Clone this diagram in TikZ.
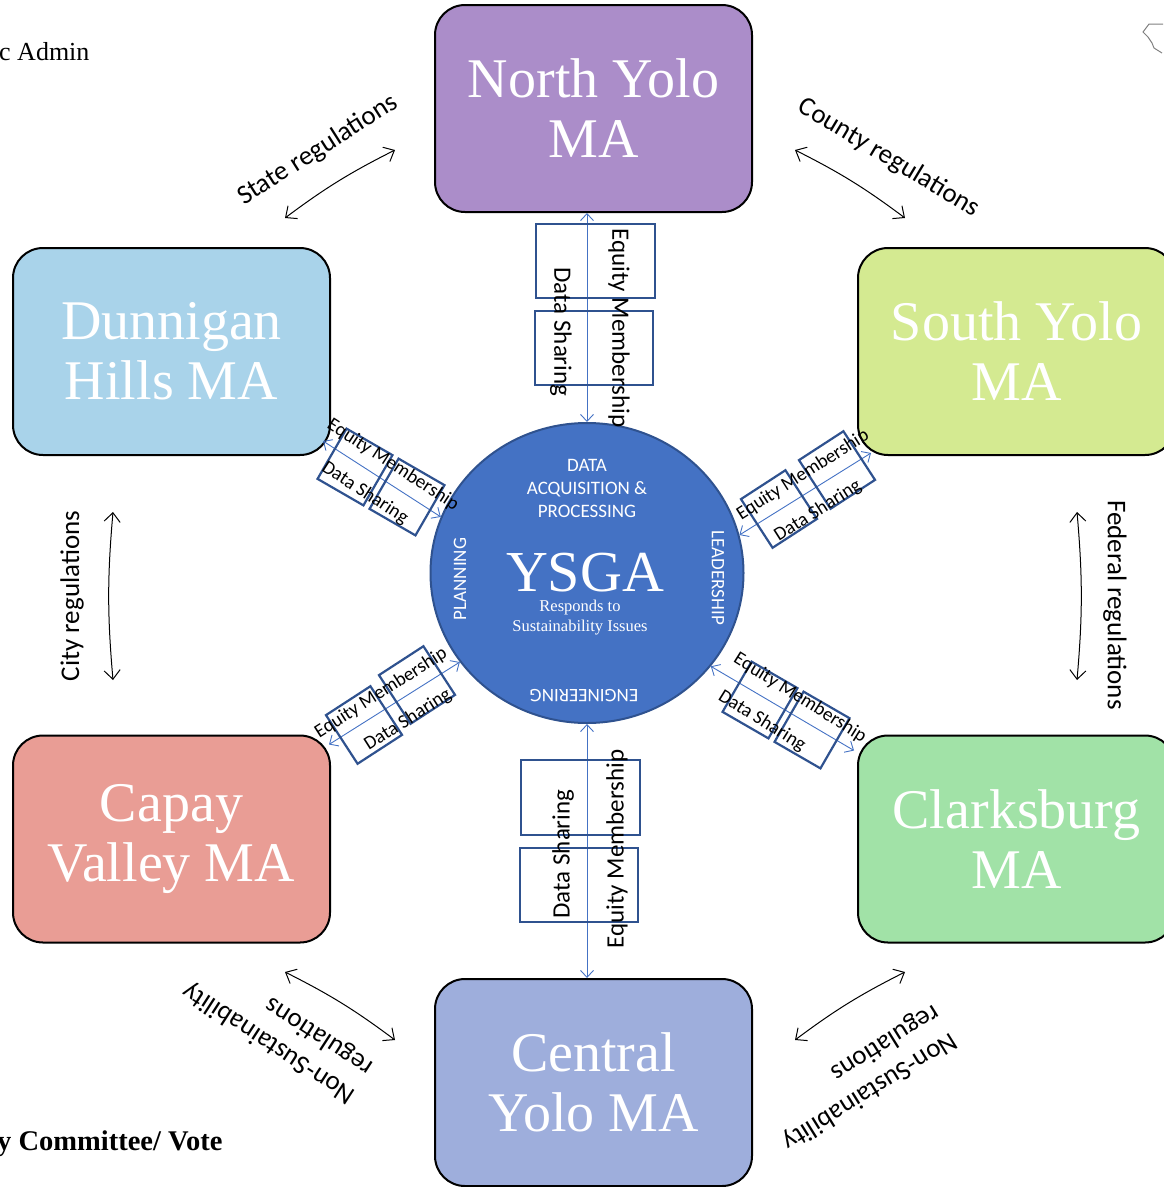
\documentclass[tikz,border=0pt]{standalone}
\usepackage{fontspec}
\setmainfont{Liberation Serif}
\newfontfamily\calfont{Carlito}
\usetikzlibrary{shapes.geometric,arrows.meta}
\definecolor{nyfill}{RGB}{171,141,201}
\definecolor{dhfill}{RGB}{169,211,234}
\definecolor{syfill}{RGB}{212,234,145}
\definecolor{cvfill}{RGB}{233,157,149}
\definecolor{cbfill}{RGB}{161,226,167}
\definecolor{cyfill}{RGB}{158,174,220}
\definecolor{hubfill}{RGB}{68,114,196}
\definecolor{hubline}{RGB}{47,82,143}
\definecolor{linkblue}{RGB}{68,114,196}
\definecolor{boxblue}{RGB}{47,82,143}
\begin{document}
\begin{tikzpicture}[x=1pt,y=-1pt,
  ma/.style={draw=black, line width=2pt, rounded corners=30pt, minimum width=317pt, minimum height=207pt,
    text=white, align=center, font=\fontsize{56}{60}\selectfont, inner sep=0pt},
  hub/.style={ellipse, draw=hubline, line width=2pt, fill=hubfill, minimum width=313pt, minimum height=300pt, inner sep=0pt},
  link/.style={draw=linkblue, line width=0.9pt, {Straight Barb[length=7pt,width=13pt]}-{Straight Barb[length=7pt,width=13pt]}},
  tagv/.style={draw=boxblue, line width=2.2pt, minimum width=118pt, minimum height=74pt, inner sep=0pt},
  tagd/.style={draw=boxblue, line width=2.2pt, minimum width=53pt, minimum height=58pt, inner sep=0pt},
  tagtxt/.style={font=\calfont\fontsize{25}{30}\selectfont, inner sep=0pt},
  tagsm/.style={font=\calfont\fontsize{19.2}{22}\selectfont, inner sep=0pt},
  hubtxt/.style={font=\calfont\fontsize{19}{23}\selectfont, text=white, align=center, inner sep=0pt},
  reg/.style={draw=black, line width=1pt, {Straight Barb[length=9pt,width=16pt]}-{Straight Barb[length=9pt,width=16pt]}},
  regtxt/.style={font=\calfont\fontsize{27}{33}\selectfont, align=left, inner sep=0pt}
]
\useasboundingbox (0,0) rectangle (1163,1187);

% corner texts
\node[anchor=base west, inner sep=0pt, font=\fontsize{26}{30}\selectfont] (admin) at (-1,60) {c Admin};
\node[anchor=base west, inner sep=0pt, font=\bfseries\fontsize{28.5}{32}\selectfont] (vote) at (-3,1150) {y Committee/ Vote};
\draw[gray, line width=1pt] (1163,24) -- (1149,24) -- (1143,32) -- (1148,37) -- (1152,43) -- (1154,48) -- (1162,53);

% management areas
\node[ma, fill=nyfill] (ny) at (593.5,108.5) {North Yolo\\MA};
\node[ma, fill=dhfill] (dh) at (171.5,351.5) {Dunnigan\\Hills MA};
\node[ma, fill=syfill] (sy) at (1016.5,351.5) {South Yolo\\MA};
\node[ma, fill=cvfill] (cv) at (171.5,839) {Capay\\Valley MA};
\node[ma, fill=cbfill] (cb) at (1016.5,839) {Clarksburg\\MA};
\node[ma, fill=cyfill] (cy) at (593.5,1082.5) {Central\\Yolo MA};

% hub
\node[hub] (ysga) at (587,573) {};
\node[hubtxt] (dap) at (587,488) {DATA\\ACQUISITION \&\\PROCESSING};
\node[inner sep=0pt, text=white, font=\fontsize{58}{60}\selectfont] (ytitle) at (585,573) {YSGA};
\node[inner sep=0pt, text=white, align=center, font=\fontsize{16.5}{20}\selectfont] (resp) at (580,618) {Responds to\\Sustainability Issues};
\node[hubtxt, rotate=90] (plan) at (460,579) {PLANNING};
\node[hubtxt, rotate=-90] (lead) at (718,578) {LEADERSHIP};
\node[hubtxt, rotate=180] (eng) at (584,696) {ENGINEERING};

% connectors
\draw[link] (ysga.north |- ny.south) -- (ysga.north);
\draw[link] (ysga.south) -- (ysga.south |- cy.north);
\draw[link] ([shift={(-8,-15)}]dh.south east) -- (ysga.159);
\draw[link] ([shift={(14,-3)}]sy.south west) -- (ysga.14);
\draw[link] ([shift={(-2,10)}]cv.north east) -- (ysga.215);
\draw[link] ([shift={(-3,16)}]cb.north west) -- (ysga.-37);

% tag boxes top / bottom
\node[tagv, minimum width=119pt] (t1) at (595.5,261) {};
\node[tagv] (t2) at (594,348) {};
\node[tagv, minimum width=119pt, minimum height=75pt] (b1) at (580.5,797.5) {};
\node[tagv] (b2) at (579,885) {};
\node[tagtxt, rotate=-90] (teq) at (619,328) {Equity Membership};
\node[tagtxt, rotate=-90] (tds) at (561,332) {Data Sharing};
\node[tagtxt, rotate=90] (bds) at (563,854) {Data Sharing};
\node[tagtxt, rotate=90] (beq) at (617,849) {Equity Membership};

% tag boxes diagonal
\node[tagd, rotate=-30] (ul1) at (355,467) {};
\node[tagd, rotate=-30] (ul2) at (407,497) {};
\node[tagsm, rotate=-33] (uleq) at (393,465) {Equity Membership};
\node[tagsm, rotate=-33] (ulds) at (365,493) {Data Sharing};

\node[tagd, rotate=33] (ur1) at (779,509) {};
\node[tagd, rotate=33] (ur2) at (837,470) {};
\node[tagsm, rotate=32.5] (ureq) at (803,475) {Equity Membership};
\node[tagsm, rotate=32.5] (urds) at (818,511) {Data Sharing};

\node[tagd, rotate=33] (ll1) at (364,725) {};
\node[tagd, rotate=33] (ll2) at (417,685) {};
\node[tagsm, rotate=32.5] (lleq) at (381,693) {Equity Membership};
\node[tagsm, rotate=32.5] (llds) at (408,720) {Data Sharing};

\node[tagd, rotate=-30] (lr1) at (760,700) {};
\node[tagd, rotate=-30] (lr2) at (812,730) {};
\node[tagsm, rotate=-32] (lreq) at (800,698) {Equity Membership};
\node[tagsm, rotate=-32] (lrds) at (762,721) {Data Sharing};

% regulation arrows
\coordinate (s1) at (285,218); \coordinate (s2) at (395,150);
\coordinate (c1) at (795,150); \coordinate (c2) at (905,218);
\coordinate (ci1) at (113,512); \coordinate (ci2) at (113,680);
\coordinate (f1) at (1077,512); \coordinate (f2) at (1077,680);
\coordinate (n1) at (285,972); \coordinate (n2) at (395,1040);
\coordinate (m1) at (795,1040); \coordinate (m2) at (905,972);
\draw[reg] (s1) to[bend left=5] (s2);
\draw[reg] (c1) to[bend left=5] (c2);
\draw[reg] (ci1) to[bend right=5] (ci2);
\draw[reg] (f1) to[bend left=5] (f2);
\draw[reg] (n1) to[bend left=5] (n2);
\draw[reg] (m1) to[bend left=5] (m2);

\node[regtxt, rotate=32.5] (state) at (318,150) {State regulations};
\node[regtxt, rotate=-31] (county) at (889,158) {County regulations};
\node[regtxt, rotate=90] (city) at (72,596) {City regulations};
\node[regtxt, rotate=-90] (fed) at (1115,605) {Federal regulations};
\node[regtxt, rotate=147] (nsl) at (278,1029) {Non-Sustainability\\regulations};
\node[regtxt, rotate=-148] (nsr) at (861,1077) {Non-Sustainability\\regulations};
\end{tikzpicture}
\end{document}
